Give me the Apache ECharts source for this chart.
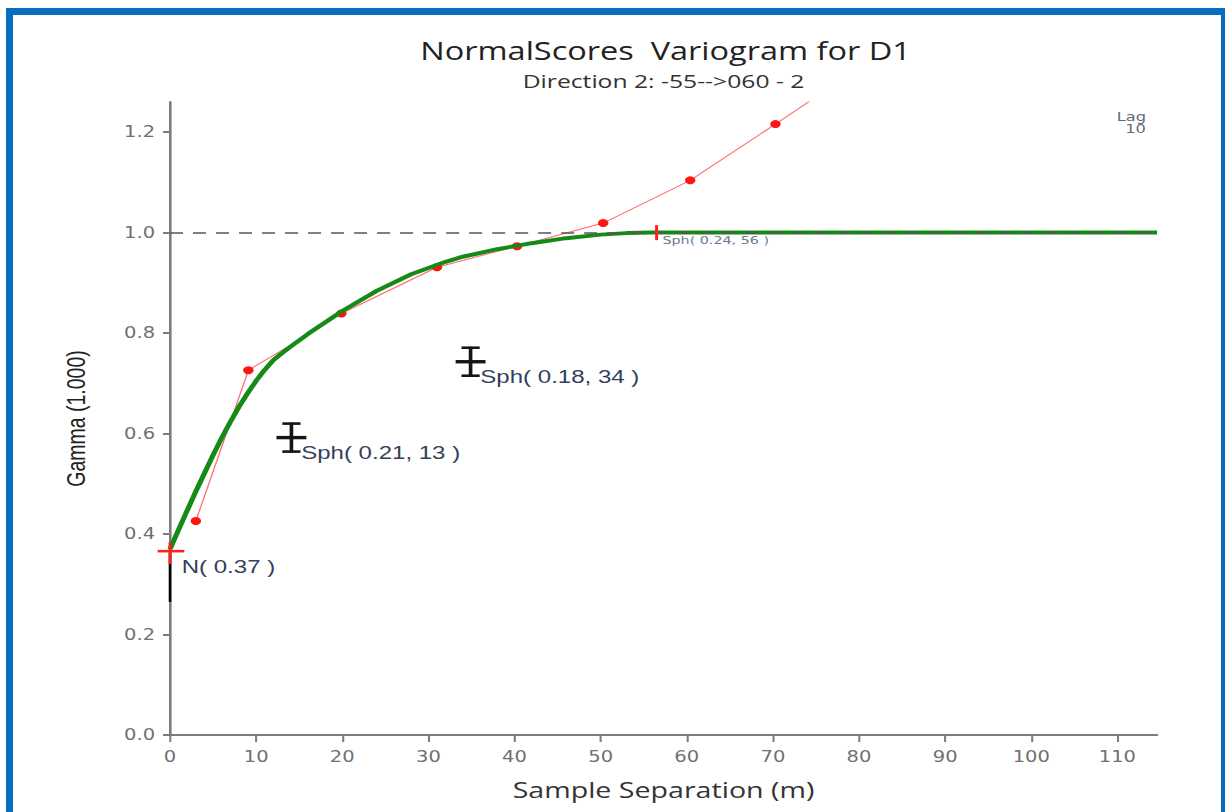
<!DOCTYPE html>
<html>
<head>
<meta charset="utf-8">
<script src="https://cdn.jsdelivr.net/npm/echarts@6/dist/echarts.min.js"></script>
<style>
html,body{margin:0;padding:0;background:#fff;width:1225px;height:812px;overflow:hidden;}
#frame{position:absolute;left:6px;top:8px;width:1222px;height:900px;border:7px solid #0a6ec0;box-sizing:border-box;}
#chart{position:absolute;left:0;top:0;width:942.31px;height:812px;transform:scaleX(1.3);transform-origin:0 0;}
</style>
</head>
<body>
<div id="frame"></div>
<div id="chart"></div>
<script>
// ---- text ----
const titleText = 'NormalScores  Variogram for D1';
const subtitleText = 'Direction 2: -55-->060 - 2';
const xAxisTitle = 'Sample Separation (m)';
const yAxisTitle = 'Gamma (1.000)';
const lagText = 'Lag\n10';

// ---- axis ticks ----
const xTickValues = [0, 10, 20, 30, 40, 50, 60, 70, 80, 90, 100, 110];
const yTickValues = [0, 0.2, 0.4, 0.6, 0.8, 1.0, 1.2];
const xMax = 114.6;
const yMax = 1.26;

// ---- experimental variogram (red) ----
const expLag   = [3.0, 9.1, 14.0, 19.9, 31.0, 40.3, 50.3, 60.4, 70.3, 80.2];
const expGamma = [0.426, 0.726, 0.776, 0.839, 0.931, 0.973, 1.019, 1.104, 1.216, 1.330];
const expMarker = [1, 1, 0, 1, 1, 1, 1, 1, 1, 1];

// ---- fitted model (green) ----
const modelLag   = [0, 1, 2, 3, 4, 5, 6, 7, 8, 9, 10, 11, 12, 13, 14, 16, 18, 20, 24, 28, 32, 34, 38, 42, 46, 50, 53, 56, 114.6];
const modelGamma = [0.370, 0.409, 0.447, 0.485, 0.521, 0.557, 0.591, 0.623, 0.653, 0.680, 0.705, 0.727, 0.746, 0.760, 0.773, 0.798, 0.821, 0.844, 0.884, 0.917, 0.942, 0.952, 0.967, 0.979, 0.989, 0.996, 0.999, 1.000, 1.000];

// ---- sill ----
const sillValue = 1.0;

// ---- structure markers ----
const structLag    = [14.1, 34.9];
const structGamma  = [0.592, 0.743];
const structLabels = ['Sph( 0.21, 13 )', 'Sph( 0.18, 34 )'];

const nuggetLag = 0;
const nuggetGamma = 0.362;
const nuggetLow = 0.265;
const nuggetLabel = 'N( 0.37 )';

const rangeLag = 56.5;
const rangeGamma = 1.0;
const rangeLabel = 'Sph( 0.24, 56 )';

const annFont = "'Liberation Sans',Arial,sans-serif";

const chart = echarts.init(document.getElementById('chart'), null, {renderer: 'svg', width: 942.31, height: 812});

const expData = expLag.map((x, i) => ({
  value: [x, expGamma[i]],
  symbol: expMarker[i] ? 'circle' : 'none'
}));
const modelData = modelLag.map((x, i) => [x, modelGamma[i]]);

function renderStruct(params, api) {
  const p = api.coord([api.value(0), api.value(1)]);
  const x = p[0], y = p[1];
  const c = '#151515';
  return {
    type: 'group',
    children: [
      {type: 'line', shape: {x1: x - 11.5, y1: y, x2: x + 11.5, y2: y}, style: {stroke: c, lineWidth: 3.4}},
      {type: 'line', shape: {x1: x, y1: y - 15, x2: x, y2: y + 15}, style: {stroke: c, lineWidth: 2.8}},
      {type: 'line', shape: {x1: x - 7, y1: y - 14, x2: x + 7, y2: y - 14}, style: {stroke: c, lineWidth: 2.6}},
      {type: 'line', shape: {x1: x - 7, y1: y + 14, x2: x + 7, y2: y + 14}, style: {stroke: c, lineWidth: 2.6}},
      {type: 'text', x: x + 7.5, y: y + 15, style: {text: structLabels[params.dataIndex], font: '18.5px ' + annFont, fill: '#33415c', align: 'left', verticalAlign: 'middle', textAlign: 'left', textVerticalAlign: 'middle'}}
    ]
  };
}

function renderNugget(params, api) {
  const p = api.coord([api.value(0), api.value(1)]);
  const q = api.coord([api.value(0), api.value(2)]);
  const x = p[0], y = p[1];
  return {
    type: 'group',
    children: [
      {type: 'line', shape: {x1: x, y1: y, x2: q[0], y2: q[1]}, style: {stroke: '#000', lineWidth: 2}},
      {type: 'line', shape: {x1: x - 9.5, y1: y - 2, x2: x + 11, y2: y - 2}, style: {stroke: '#ff2020', lineWidth: 2.6}},
      {type: 'line', shape: {x1: x, y1: y - 11, x2: x, y2: y + 11}, style: {stroke: '#ff2020', lineWidth: 2.2}},
      {type: 'text', x: x + 9, y: y + 14, style: {text: nuggetLabel, font: '18.5px ' + annFont, fill: '#33415c', align: 'left', verticalAlign: 'middle', textAlign: 'left', textVerticalAlign: 'middle'}}
    ]
  };
}

function renderRange(params, api) {
  const p = api.coord([api.value(0), api.value(1)]);
  const x = p[0], y = p[1];
  return {
    type: 'group',
    children: [
      {type: 'line', shape: {x1: x, y1: y - 7.5, x2: x, y2: y + 7.5}, style: {stroke: '#ff2020', lineWidth: 2.3}},
      {type: 'text', x: x + 4.5, y: y + 8, style: {text: rangeLabel, font: "11px 'DejaVu Sans'", fill: '#6b7a93', align: 'left', verticalAlign: 'middle', textAlign: 'left', textVerticalAlign: 'middle'}}
    ]
  };
}

const axisColor = '#7d7d7d';

const option = {
  animation: false,
  backgroundColor: 'transparent',
  grid: {left: 130.77, right: 52.31, top: 102, bottom: 77, containLabel: false},
  xAxis: {
    type: 'value', min: 0, max: xMax, interval: 10,
    name: xAxisTitle, nameLocation: 'middle', nameGap: 43,
    nameTextStyle: {fontFamily: 'Open Sans', fontSize: 22, color: '#333'},
    axisLine: {show: true, onZero: false, lineStyle: {color: axisColor, width: 2}},
    axisTick: {show: true, length: 7, customValues: xTickValues, lineStyle: {color: axisColor, width: 1.6}},
    axisLabel: {customValues: xTickValues, fontFamily: 'DejaVu Sans', fontSize: 15, color: '#707070', margin: 14},
    splitLine: {show: false}
  },
  yAxis: {
    type: 'value', min: 0, max: yMax, interval: 0.2,
    name: yAxisTitle, nameLocation: 'middle', nameGap: 62, nameRotate: 90,
    nameTextStyle: {fontFamily: annFont, fontSize: 19.5, color: '#222'},
    axisLine: {show: true, onZero: false, lineStyle: {color: axisColor, width: 2}},
    axisTick: {show: true, length: 5.4, customValues: yTickValues, lineStyle: {color: axisColor, width: 2}},
    axisLabel: {customValues: yTickValues, fontFamily: 'DejaVu Sans', fontSize: 15, color: '#707070', margin: 11.5,
      formatter: v => Number(v).toFixed(1)},
    splitLine: {show: false}
  },
  graphic: [
    {type: 'text', x: 512, y: 50, style: {text: titleText, font: "25px 'Open Sans'", fill: '#222', align: 'center', verticalAlign: 'middle', textAlign: 'center', textVerticalAlign: 'middle'}},
    {type: 'text', x: 510.4, y: 80, style: {text: subtitleText, font: "19px 'Open Sans'", fill: '#333', align: 'center', verticalAlign: 'middle', textAlign: 'center', textVerticalAlign: 'middle'}},
    {type: 'text', x: 881.5, y: 122.5, style: {text: lagText, font: "12.5px 'DejaVu Sans'", fill: '#666a75', lineHeight: 12.5, align: 'right', verticalAlign: 'middle', textAlign: 'right', textVerticalAlign: 'middle'}}
  ],
  series: [
    {
      name: 'experimental', type: 'line', z: 2, clip: true,
      data: expData,
      symbol: 'circle', symbolSize: 8,
      lineStyle: {color: '#ff6b6b', width: 1},
      itemStyle: {color: '#ff1414'},
      markLine: {
        silent: true, symbol: 'none', label: {show: false},
        lineStyle: {color: '#555', width: 1.5, type: [10, 7.7]},
        data: [{yAxis: sillValue}]
      }
    },
    {
      name: 'model', type: 'line', z: 3, clip: true,
      data: modelData,
      symbol: 'none', smooth: false,
      lineStyle: {color: '#168a16', width: 4, join: 'round'}
    },
    {
      name: 'structures', type: 'custom', z: 5,
      data: structLag.map((x, i) => [x, structGamma[i]]),
      renderItem: renderStruct
    },
    {
      name: 'nugget', type: 'custom', z: 5,
      data: [[nuggetLag, nuggetGamma, nuggetLow]],
      renderItem: renderNugget
    },
    {
      name: 'range', type: 'custom', z: 5,
      data: [[rangeLag, rangeGamma]],
      renderItem: renderRange
    }
  ]
};
chart.setOption(option);
</script>
</body>
</html>
